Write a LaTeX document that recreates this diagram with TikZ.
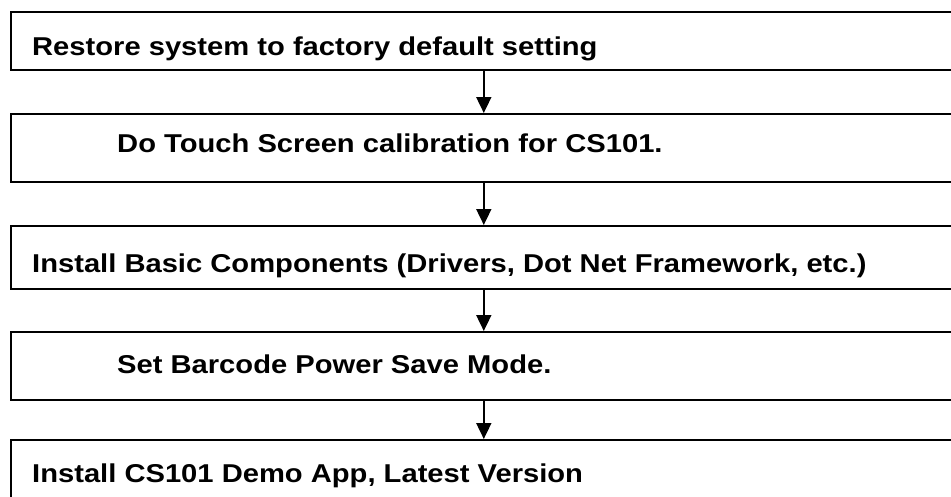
\documentclass[tikz,border=0pt]{standalone}
\usepackage{fontspec}
\newfontfamily\stepfont{Liberation Sans}[FakeStretch=1.13]
\usetikzlibrary{arrows.meta}
\tikzset{
  stepbox/.style={draw, line width=1.6pt, rectangle, minimum width=946pt,
    anchor=north west, inner sep=0pt},
  steptext/.style={anchor=base west, inner sep=0pt,
    font=\stepfont\bfseries\fontsize{25.8}{30}\selectfont},
  flow/.style={line width=1.8pt, -{Triangle[length=16pt,width=15pt]}}
}
\begin{document}
\begin{tikzpicture}[x=1pt,y=-1pt]
  \useasboundingbox (0,0) rectangle (951,496);
  % step boxes
  \node[stepbox, minimum height=58pt] (restore) at (10,11) {};
  \node[stepbox, minimum height=68pt] (calib) at (10,113) {};
  \node[stepbox, minimum height=63pt] (basic) at (10,225) {};
  \node[stepbox, minimum height=68pt] (power) at (10,331) {};
  \node[stepbox, minimum height=80pt] (demo) at (10,439) {};
  % step texts
  \node[steptext] (restoretext) at (32,55) {Restore system to factory default setting};
  \node[steptext] (calibtext) at (117,152) {Do Touch Screen calibration for CS101.};
  \node[steptext] (basictext) at (32,272) {Install Basic Components (Drivers, Dot Net Framework, etc.)};
  \node[steptext] (powertext) at (117,373) {Set Barcode Power Save Mode.};
  \node[steptext] (demotext) at (32,482) {Install CS101 Demo App, Latest Version};
  % arrows
  \draw[flow] (restore) -- (calib);
  \draw[flow] (calib) -- (basic);
  \draw[flow] (basic) -- (power);
  \draw[flow] (power) -- (demo);
\end{tikzpicture}
\end{document}
